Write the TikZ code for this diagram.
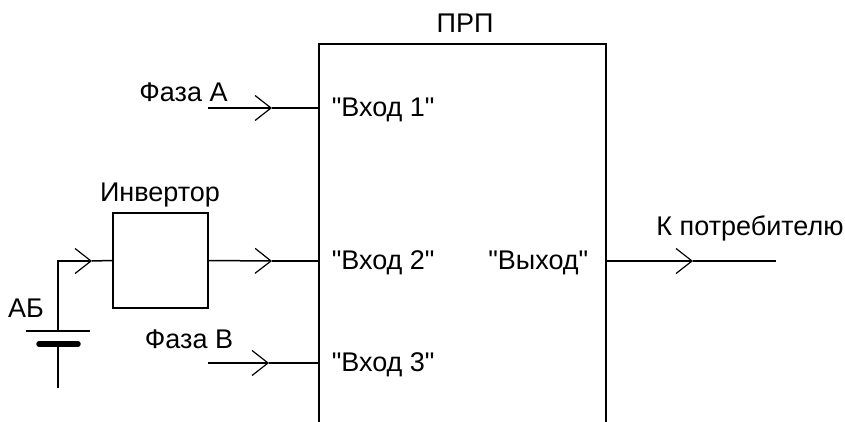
\documentclass[tikz,border=0pt]{standalone}
\usepackage{fontspec}
\setmainfont{Liberation Sans}[Ligatures=TeXOff]
\usetikzlibrary{arrows.meta, positioning}

\begin{document}
\begin{tikzpicture}[
    x = 1pt, y = -1pt,
    line width = 1.5pt,
    every node/.style = {font = \fontsize{27}{31}\selectfont, inner sep = 0pt},
    inverter/.style = {draw, minimum width = 95pt, minimum height = 95pt},
    barb/.style = {-{Straight Barb[length = 16pt, width = 25pt, line width = 1.2pt]}}
  ]
  \useasboundingbox (0,0) rectangle (845,422);

  % Main block, open at the bottom
  \coordinate (mainBL) at (319,422);
  \coordinate (mainTL) at (319,44);
  \coordinate (mainTR) at (606,44);
  \coordinate (mainBR) at (606,422);
  \draw (mainBL) -- (mainTL) -- (mainTR) -- (mainBR);

  \node[inverter] (inv) at (160.5,260.5) {};

  % Inputs and output
  \coordinate (in1) at (319,108);
  \coordinate (in2) at (319,261);
  \coordinate (in3) at (319,363);
  \coordinate (out) at (606,261);
  \coordinate (startA) at (208,108);
  \coordinate (startB) at (208,363);
  \coordinate (endOut) at (776,261);
  \coordinate (tipA) at (272,108);
  \coordinate (tipB) at (269,363);
  \coordinate (tipInv) at (272,261);
  \coordinate (tipBat) at (92,261);
  \coordinate (tipOut) at (693,261);

  \draw[barb] (startA) -- (tipA);
  \draw (tipA) -- (in1);
  \draw[barb] (inv.east) -- (tipInv);
  \draw (tipInv) -- (in2);
  \draw[barb] (startB) -- (tipB);
  \draw (tipB) -- (in3);
  \draw[barb] (out) -- (tipOut);
  \draw (tipOut) -- (endOut);

  % Battery
  \coordinate (corner) at (58,261);
  \coordinate (plateT) at (58,331);
  \coordinate (plateTL) at (26,331);
  \coordinate (plateTR) at (90,331);
  \coordinate (plateB) at (58,344);
  \coordinate (plateBL) at (39,344);
  \coordinate (plateBR) at (78,344);
  \coordinate (batEnd) at (58,388);
  \draw[barb] (plateT) -- (corner) -- (tipBat);
  \draw (tipBat) -- (inv.west);
  \draw (plateTL) -- (plateTR);
  \draw[line width = 5.5pt, line cap = round] (plateBL) -- (plateBR);
  \draw (plateB) -- (batEnd);

  % Labels
  \node (prp) at (465,23) {ПРП};
  \node (phaseA) at (183.5,92) {Фаза А};
  \node (phaseB) at (189,339) {Фаза В};
  \node (invLabel) at (160,195) {Инвертор};
  \node (batLabel) at (26,308) {АБ};
  \node (outLabel) at (750,228.5) {К потребителю};
  \node[right = 12pt of in1, yshift = -1.5pt] (input1) {"Вход 1"};
  \node[right = 12pt of in2, yshift = -1.5pt] (input2) {"Вход 2"};
  \node[right = 12pt of in3, yshift = -1.5pt] (input3) {"Вход 3"};
  \node[left = 17pt of out, yshift = -1.5pt] (output) {"Выход"};

\end{tikzpicture}
\end{document}
